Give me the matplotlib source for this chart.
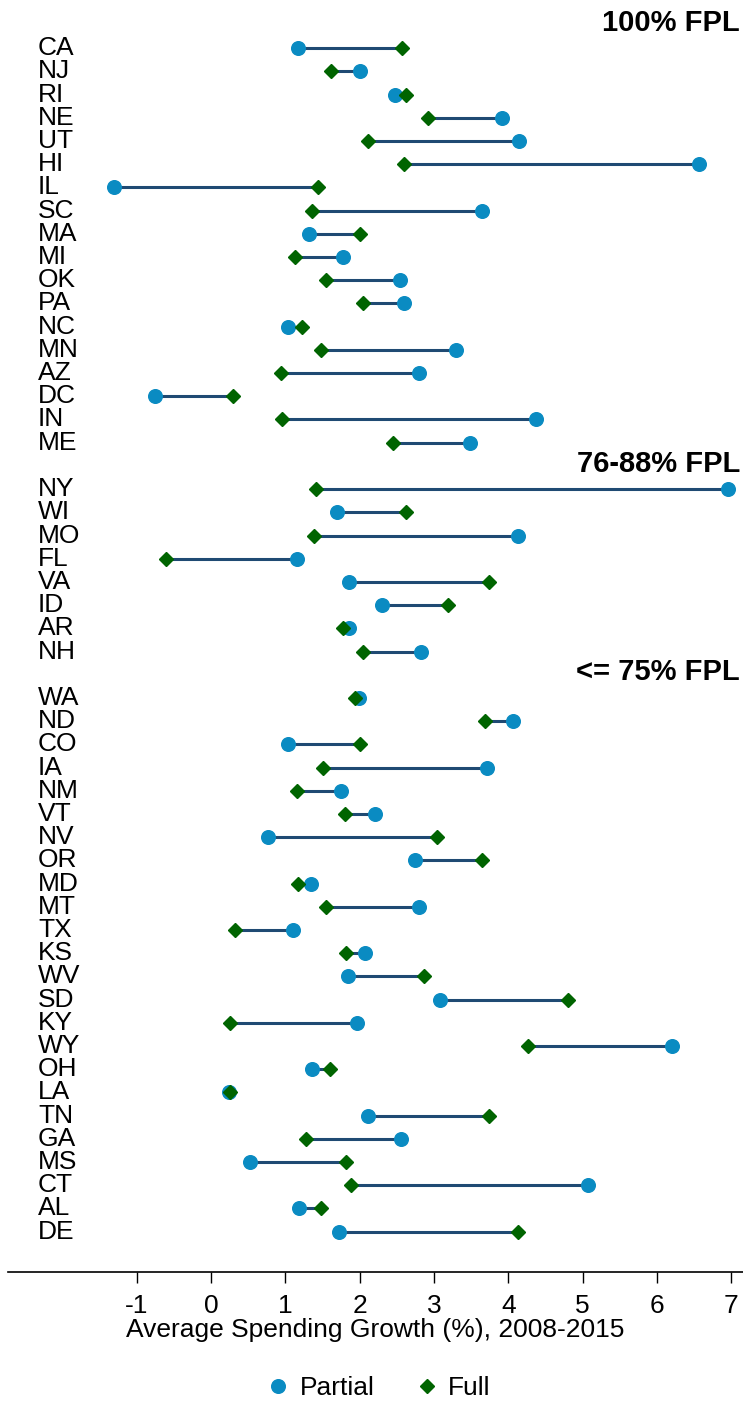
import matplotlib
matplotlib.use("Agg")
import matplotlib.pyplot as plt
from matplotlib.lines import Line2D

plt.rcParams['font.family'] = ['Liberation Sans', 'DejaVu Sans']

# groups of states, top to bottom
groups = ['100% FPL', '76-88% FPL', '<= 75% FPL']

states_100 = ['CA', 'NJ', 'RI', 'NE', 'UT', 'HI', 'IL', 'SC', 'MA', 'MI', 'OK', 'PA',
              'NC', 'MN', 'AZ', 'DC', 'IN', 'ME']
partial_100 = [1.17, 2.01, 2.48, 3.91, 4.14, 6.57, -1.31, 3.64, 1.32, 1.77, 2.54, 2.59,
               1.03, 3.29, 2.80, -0.76, 4.38, 3.49]
full_100 = [2.57, 1.62, 2.62, 2.92, 2.11, 2.60, 1.44, 1.36, 2.01, 1.13, 1.54, 2.04,
            1.23, 1.48, 0.94, 0.29, 0.96, 2.45]

states_88 = ['NY', 'WI', 'MO', 'FL', 'VA', 'ID', 'AR', 'NH']
partial_88 = [6.96, 1.70, 4.13, 1.15, 1.85, 2.30, 1.85, 2.83]
full_88 = [1.41, 2.63, 1.38, -0.61, 3.74, 3.19, 1.78, 2.05]

states_75 = ['WA', 'ND', 'CO', 'IA', 'NM', 'VT', 'NV', 'OR', 'MD', 'MT', 'TX', 'KS',
             'WV', 'SD', 'KY', 'WY', 'OH', 'LA', 'TN', 'GA', 'MS', 'CT', 'AL', 'DE']
partial_75 = [1.99, 4.07, 1.03, 3.72, 1.75, 2.21, 0.76, 2.74, 1.34, 2.80, 1.10, 2.07,
              1.84, 3.08, 1.96, 6.20, 1.36, 0.24, 2.11, 2.56, 0.53, 5.07, 1.18, 1.72]
full_75 = [1.94, 3.69, 2.01, 1.50, 1.16, 1.80, 3.04, 3.65, 1.17, 1.55, 0.32, 1.82,
           2.87, 4.81, 0.26, 4.26, 1.60, 0.26, 3.74, 1.28, 1.82, 1.88, 1.48, 4.13]

xticks = [-1, 0, 1, 2, 3, 4, 5, 6, 7]

blue = '#0a8bc2'
green = '#006400'
navy = '#1f4a73'

fig = plt.figure(figsize=(7.43, 14.01), dpi=100)
ax = fig.add_axes([8.3 / 743, 1 - 1271.7 / 1401, 734.7 / 743, 1271.7 / 1401])

data = [(states_100, partial_100, full_100),
        (states_88, partial_88, full_88),
        (states_75, partial_75, full_75)]

row = 0
for name, (sts, part, full) in zip(groups, data):
    ax.text(0.996, row - 0.1, name, transform=ax.get_yaxis_transform(),
            ha='right', va='center', fontsize=21, fontweight='bold')
    row += 1
    for s, p, f in zip(sts, part, full):
        ax.plot([p, f], [row, row], color=navy, lw=2.2, zorder=2)
        ax.plot(p, row, 'o', ms=9.8, color=blue, mec=blue, zorder=3)
        ax.plot(f, row, 'D', ms=7.3, color=green, mec=green, zorder=4)
        ax.text(0.0404, row, s, transform=ax.get_yaxis_transform(),
                ha='left', va='center', fontsize=19)
        row += 1

ax.set_xlim(-2.73, 7.16)
ax.set_ylim(53.73, -1.08)
ax.set_yticks([])
ax.set_xticks(xticks)
ax.set_xticklabels([str(t) for t in xticks], fontsize=19)
ax.tick_params(axis='x', length=7.7, width=1, pad=8)
for sp in ['top', 'left', 'right']:
    ax.spines[sp].set_visible(False)
ax.spines['bottom'].set_linewidth(1.2)
ax.set_xlabel('Average Spending Growth (%), 2008-2015', fontsize=19, labelpad=0)

handles = [Line2D([], [], marker='o', ls='', ms=9.8, color=blue, label='Partial'),
           Line2D([], [], marker='D', ls='', ms=7.3, color=green, label='Full')]
fig.legend(handles=handles, loc='center', bbox_to_anchor=(378 / 743, 1 - 1388 / 1401),
           ncol=2, frameon=False, fontsize=19, handletextpad=0.3, columnspacing=1.5,
           handlelength=1.0)

fig.savefig('out.png', dpi=100)
